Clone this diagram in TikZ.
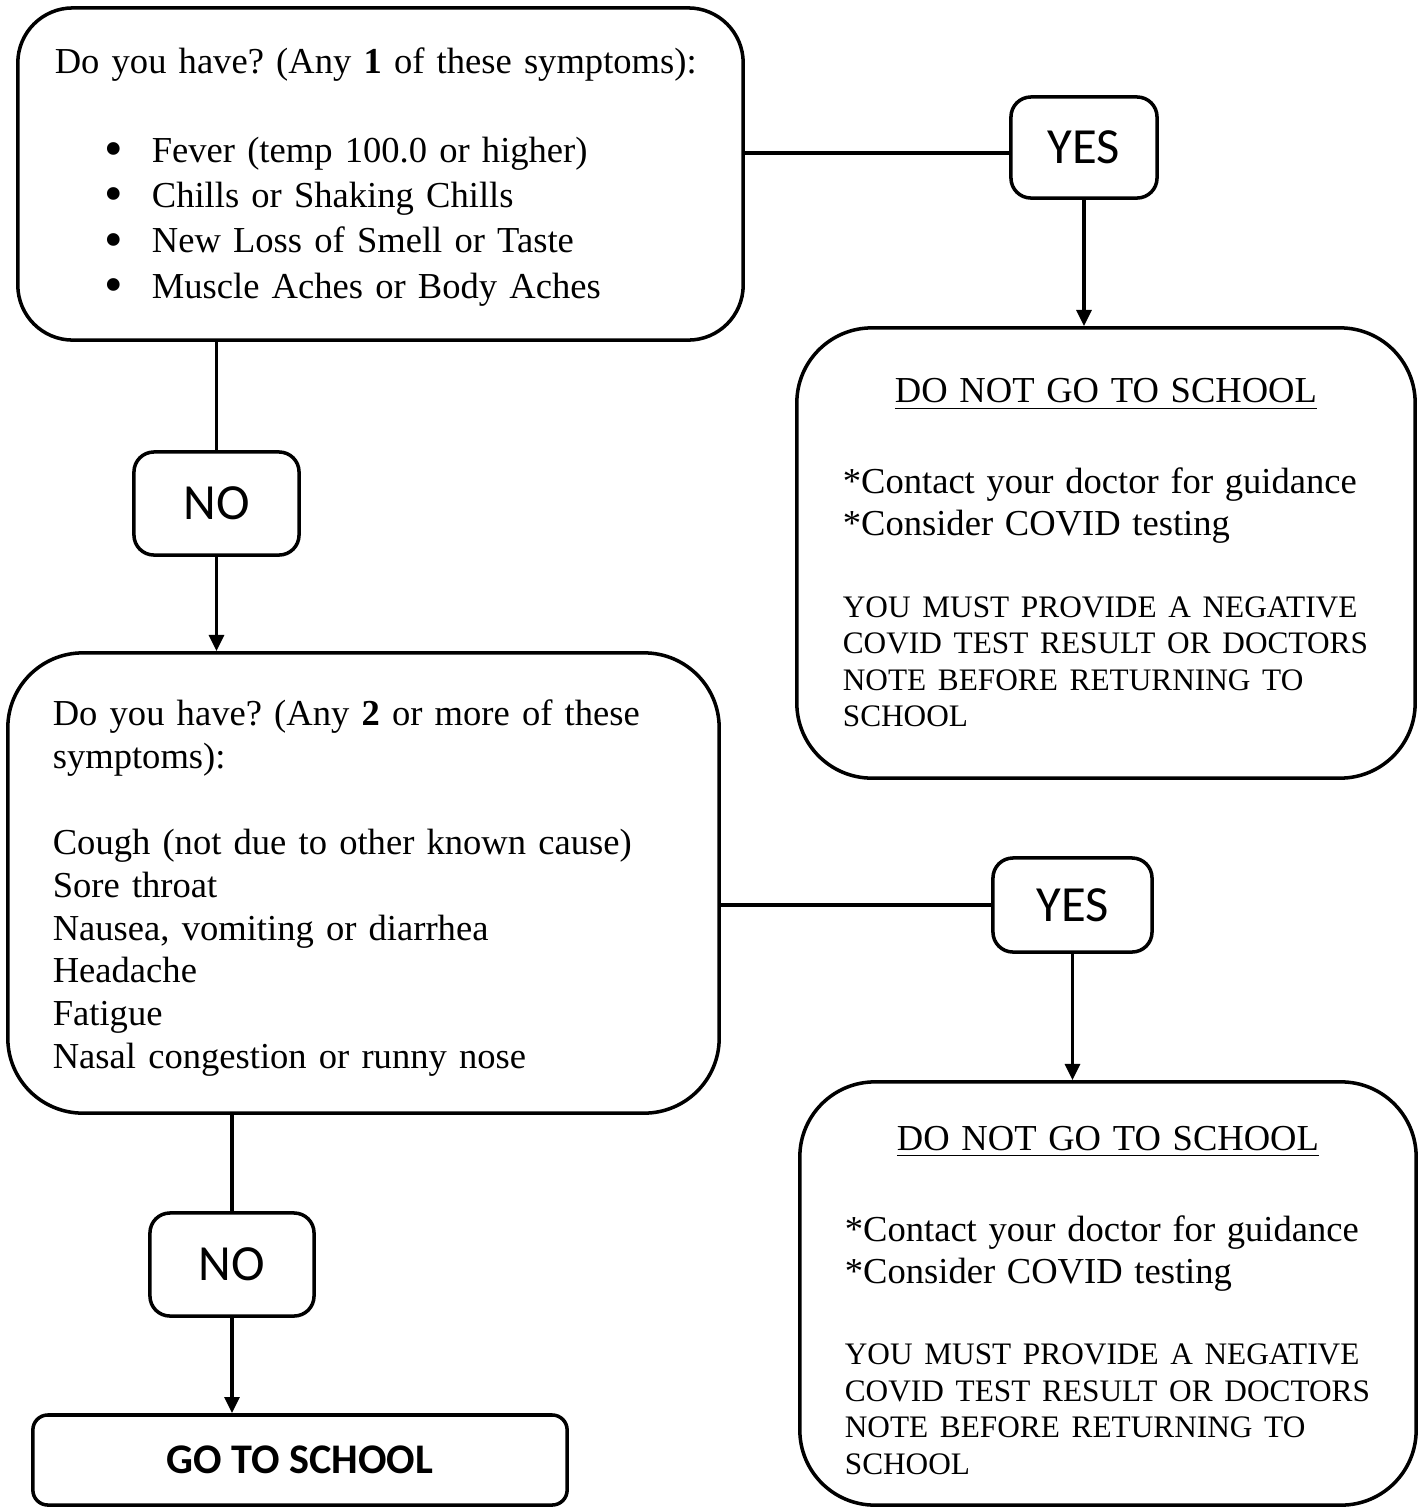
\documentclass[tikz,border=0pt]{standalone}
\usepackage{fontspec}
\usepackage{graphicx}
\setmainfont{Liberation Serif}
\newfontfamily\calibri{Carlito}
\usetikzlibrary{arrows.meta}
\setlength{\parindent}{0pt}
\frenchspacing

\newcommand{\qfont}{\fontsize{10.4}{12.9}\selectfont}
\newcommand{\qfontb}{\fontsize{10.4}{12.2}\selectfont}
\newcommand{\topgap}[1]{\rule{0pt}{\dimexpr\fontcharht\font`h+#1\relax}}
\newcommand{\symline}[1]{\hspace*{0.5cm}\makebox[0.47cm][l]{\smash{\raisebox{-0.25ex}{\scalebox{1.45}{\textbullet}}}}#1}
\newcommand{\dnstext}[1]{%
	{\qfont\topgap{#1}\makebox[5.26cm][c]{\underline{DO NOT GO TO SCHOOL}}\par}\vspace{0.49cm}%
	{\fontsize{10.4}{11.9}\selectfont \mbox{*Contact your doctor for guidance}\\ \mbox{*Consider COVID testing}\par}\vspace{0.45cm}%
	{\fontsize{8.9}{10.4}\selectfont \mbox{YOU MUST PROVIDE A NEGATIVE}\\ \mbox{COVID TEST RESULT OR DOCTORS}\\ \mbox{NOTE BEFORE RETURNING TO}\\ \mbox{SCHOOL}\par}}

\tikzset{
	qbox/.style={draw, line width=1pt, align=left, inner ysep=0pt},
	answer/.style={draw, line width=1pt, rounded corners=0.2cm, inner sep=0pt, font=\calibri\fontsize{14.4}{16}\selectfont},
	link/.style={line width=1pt},
	arrow/.style={line width=1pt, -{Triangle[width=4.2pt,length=4.6pt]}}
}

\begin{document}
\begin{tikzpicture}[x=0.01cm, y=-0.01cm]
	\useasboundingbox (0,0) rectangle (1422,1508);

	% questions
	\node[qbox, rounded corners=0.55cm, text width=6.51cm, inner xsep=0.37cm, minimum height=3.32cm, font=\qfont] (q1) at(380.5,174){\topgap{0.08cm}\mbox{Do you have? (Any \textbf{1} of these symptoms):}\par\vspace{0.43cm}
		\symline{Fever (temp 100.0 or higher)}\\
		\symline{Chills or Shaking Chills}\\
		\symline{New Loss of Smell or Taste}\\
		\symline{Muscle Aches or Body Aches}};
	\node[qbox, rounded corners=0.75cm, text width=6.21cm, inner xsep=0.45cm, minimum height=4.60cm, font=\qfontb] (q2) at(363.5,883){\topgap{0.12cm}\mbox{Do you have? (Any \textbf{2} or more of these}\\ symptoms):\par\vspace{0.43cm}
		Cough (not due to other known cause)\\
		Sore throat\\
		Nausea, vomiting or diarrhea\\
		Headache\\
		Fatigue\\
		Nasal congestion or runny nose};

	% answers
	\node[answer, minimum width=1.46cm, minimum height=1.01cm] (yes1) at(1084,147.5){YES};
	\node[answer, minimum width=1.65cm, minimum height=1.03cm] (no1) at(216.5,503.5){NO};
	\node[answer, minimum width=1.59cm, minimum height=0.94cm] (yes2) at(1072.5,905){YES};
	\node[answer, minimum width=1.64cm, minimum height=1.03cm] (no2) at(232,1264.5){NO};

	% outcomes
	\node[qbox, rounded corners=0.75cm, text width=5.26cm, inner xsep=0.46cm, minimum height=4.50cm] (dns1) at(1106,553){\dnstext{0cm}};
	\node[qbox, rounded corners=0.75cm, text width=5.26cm, inner xsep=0.45cm, minimum height=4.23cm] (dns2) at(1108,1293.5){\dnstext{0.14cm}};
	\node[draw, line width=1pt, rounded corners=0.15cm, minimum width=5.34cm, minimum height=0.90cm, font=\calibri\bfseries\fontsize{12}{14}\selectfont] (go) at(300,1460){GO TO SCHOOL};

	\draw[link] ([yshift=-0.055cm]q1.east |- yes1.west) -- ([yshift=-0.055cm]yes1.west);
	\draw[arrow] (yes1.south) -- (yes1.south |- dns1.north);
	\draw[link] (no1.north |- q1.south) -- (no1.north);
	\draw[arrow] (no1.south) -- (no1.south |- q2.north);
	\draw[link] (q2.east |- yes2.west) -- (yes2.west);
	\draw[arrow] (yes2.south) -- (yes2.south |- dns2.north);
	\draw[link] (no2.north |- q2.south) -- (no2.north);
	\draw[arrow] (no2.south) -- (no2.south |- go.north);
\end{tikzpicture}
\end{document}
